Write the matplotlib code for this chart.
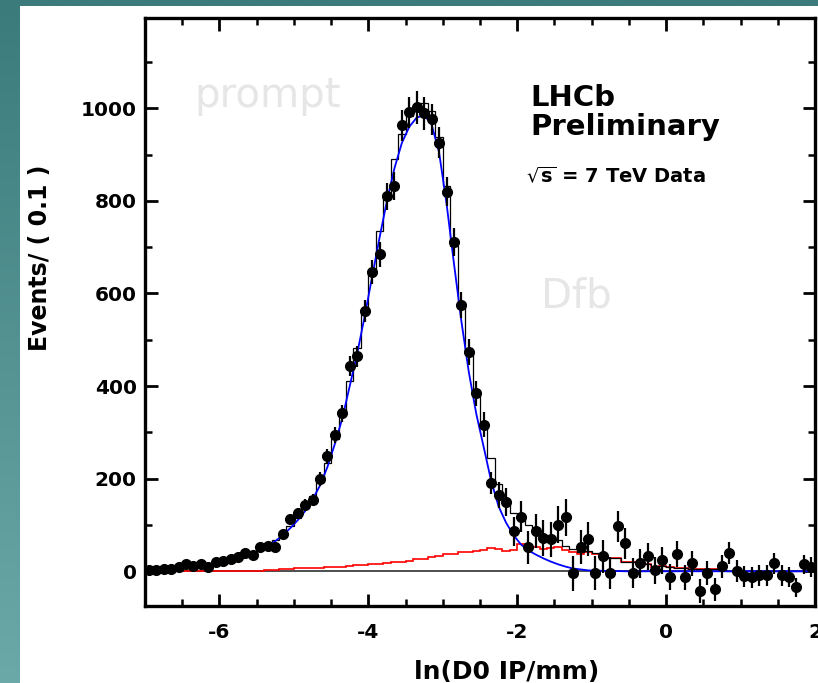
import numpy as np
import matplotlib
matplotlib.use('Agg')
import matplotlib.pyplot as plt
from matplotlib.colors import LinearSegmentedColormap
from matplotlib.patches import Rectangle
from matplotlib.ticker import MultipleLocator

plt.rcParams['font.family'] = ['DejaVu Sans']
plt.rcParams['mathtext.fontset'] = 'dejavusans'
plt.rcParams['axes.unicode_minus'] = False

# bin edges of the ln(IP) histogram (bin width 0.1)
bin_lo, bin_hi, bin_w = -7.0, 2.0, 0.1

# data points (events per 0.1), bins -6.95 ... 1.95
events = [3, 3, 4, 5, 9, 15, 11, 15, 9, 19, 22, 26, 30, 39, 35, 52, 54, 52, 80, 112,
          125, 143, 153, 200, 248, 294, 341, 443, 464, 562,
          646, 685, 810, 832, 963, 991, 1002, 989, 976, 926,
          820, 711, 575, 473, 385, 317, 190, 165, 149, 86,
          118, 52, 87, 72, 69, 101, 117, -4, 52, 69,
          -4, 32, -4, 97, 60, -4, 17, 32, 2, 24,
          -13, 37, -13, 17, -43, -4, -39, 11, 39, 0,
          -11, -13, -9, -9, 17, -9, -13, -35, 15, 9]
errors = [3, 3, 3, 3, 4, 5, 4, 5, 4, 5, 5, 6, 6, 7, 7, 8, 8, 8, 10, 11,
          12, 13, 13, 15, 16, 18, 19, 21, 22, 24,
          26, 27, 29, 30, 33, 34, 35, 35, 34, 33,
          32, 31, 29, 28, 27, 26, 24, 28, 30, 32,
          34, 36, 37, 38, 38, 39, 40, 38, 37, 37,
          36, 36, 34, 34, 33, 32, 31, 30, 29, 29,
          28, 28, 27, 27, 26, 26, 25, 25, 24, 24,
          23, 23, 23, 22, 22, 22, 22, 21, 21, 21]

# prompt component (blue curve) at bin centres
prompt = [4, 4, 5, 6, 7, 8, 10, 12, 14, 16, 19, 23, 27, 33, 39, 46, 55, 65, 78, 93,
          110, 130, 155, 185, 225, 275, 330, 400, 470, 550,
          635, 720, 800, 870, 925, 960, 980, 985, 965, 905,
          795, 665, 540, 430, 340, 268, 195, 140, 105, 78,
          58, 45, 36, 28, 21, 15, 10, 6, 4, 2,
          1, 1, 0.5, 0.5, 0, 0, 0, 0, 0, 0,
          0, 0, 0, 0, 0, 0, 0, 0, 0, 0,
          0, 0, 0, 0, 0, 0, 0, 0, 0, 0]

# D-from-B component (red histogram), bins -6.95 ... 0.75
dfb = [0.5] * 16 + [2, 3, 4, 5, 6, 6, 7, 8, 9, 10,
                    10, 12, 13, 14, 15, 16, 18, 20, 20, 23,
                    26, 27, 30, 34, 37, 38, 41, 42, 44, 45,
                    50, 48, 44, 47, 58, 54, 52, 48, 50, 52,
                    45, 42, 38, 42, 38, 30, 29, 28, 21, 20,
                    18, 15, 10, 11, 9, 7, 6, 4, 4, 4, 4, 4]

x_ticks = [-6, -4, -2, 0, 2]
y_ticks = [0, 200, 400, 600, 800, 1000]

edges = np.round(np.arange(bin_lo, bin_hi + bin_w / 2, bin_w), 2)
centres = 0.5 * (edges[:-1] + edges[1:])
events = np.array(events, dtype=float)
errors = np.array(errors, dtype=float)
prompt = np.array(prompt, dtype=float)
dfb = np.array(dfb, dtype=float)
total = prompt + np.pad(dfb, (0, len(prompt) - len(dfb)))

W, H = 818, 683
fig = plt.figure(figsize=(W / 100, H / 100), dpi=100)

# slide background: teal frame with white page
bg = fig.add_axes([0, 0, 1, 1])
bg.axis('off')
cmap = LinearSegmentedColormap.from_list('teal', ['#6aa9a7', '#3b7b7b'])
bg.imshow(np.linspace(0, 1, 256).reshape(-1, 1), cmap=cmap, aspect='auto',
          extent=[0, 1, 0, 1], origin='lower')
bg.add_patch(Rectangle((20 / W, 0), 1, 1 - 6 / H, transform=bg.transAxes,
                       facecolor='white', edgecolor='none'))
bg.set_xlim(0, 1)
bg.set_ylim(0, 1)

ax = fig.add_axes([145 / W, 1 - 606 / H, 670 / W, 588 / H])
ax.set_xlim(bin_lo, bin_hi)
ax.set_ylim(-75, 1195)

ax.axhline(0, color='#404040', lw=1.3, zorder=1)
ax.stairs(dfb, edges[:len(dfb) + 1], baseline=None, color='red', lw=1.2, zorder=2)
ax.stairs(total, edges, baseline=None, color='black', lw=0.9, zorder=3)
ax.plot(centres, prompt, color='blue', lw=1.3, zorder=4)
ax.errorbar(centres, events, yerr=errors, fmt='o', color='black', ms=7,
            elinewidth=1.6, capsize=0, zorder=5)

ax.text(-5.35, 1002, 'prompt', fontsize=29, color='#e6e6e6', ha='center',
        va='baseline', zorder=0)
ax.text(-1.21, 570, 'Dfb', fontsize=29, color='#e6e6e6', ha='center',
        va='baseline', zorder=0)
ax.text(-1.83, 1004, 'LHCb', fontsize=21, fontweight='bold', va='baseline')
ax.text(-1.83, 942, 'Preliminary', fontsize=21, fontweight='bold', va='baseline')
ax.text(-1.88, 840, r'$\sqrt{\mathbf{s}}$ = 7 TeV Data', fontsize=14,
        fontweight='bold', va='baseline')

ax.set_xticks(x_ticks)
ax.set_yticks(y_ticks)
ax.xaxis.set_minor_locator(MultipleLocator(0.5))
ax.yaxis.set_minor_locator(MultipleLocator(100))
ax.tick_params(which='both', direction='in', top=True, right=True)
ax.tick_params(which='major', length=9, width=2.0, labelsize=14.5)
ax.tick_params(which='minor', length=5, width=1.8)
ax.tick_params(axis='x', which='major', pad=12)
ax.tick_params(axis='y', which='major', pad=6)
for lab in ax.get_xticklabels() + ax.get_yticklabels():
    lab.set_fontweight('bold')
for sp in ax.spines.values():
    sp.set_linewidth(2.4)

fig.text(40.5 / W, 1 - 258 / H, 'Events/ ( 0.1 )', rotation=90, fontsize=17,
         fontweight='bold', ha='center', va='center')
fig.text(507 / W, 4 / H, 'ln(D0 IP/mm)', fontsize=18, fontweight='bold',
         ha='center', va='baseline')

fig.savefig('out.png', dpi=100)
